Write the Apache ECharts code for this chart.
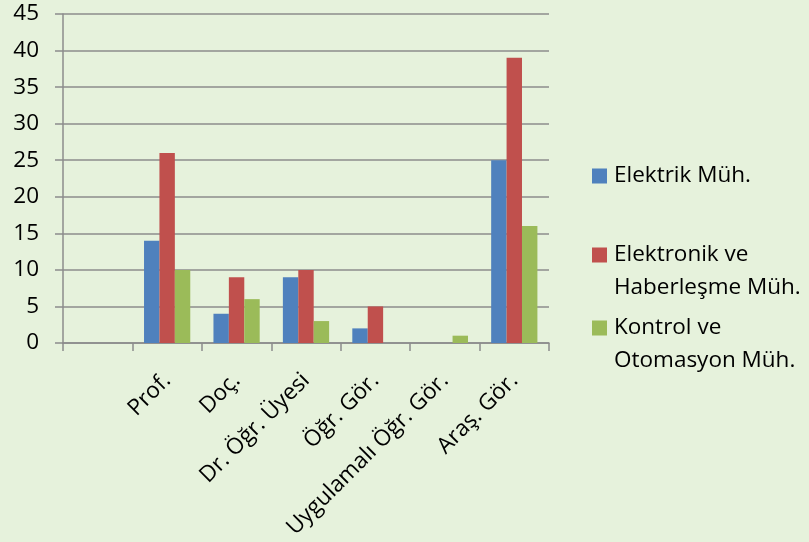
<!DOCTYPE html>
<html>
<head>
<meta charset="utf-8">
<script src="https://cdn.jsdelivr.net/npm/echarts@6/dist/echarts.min.js"></script>
<style>
html,body{margin:0;padding:0;background:#E6F2DC;}
#c{width:809px;height:542px;}
</style>
</head>
<body>
<div id="c"></div>
<script>
const categories = ["", "Prof.", "Doç.", "Dr. Öğr. Üyesi", "Öğr. Gör.", "Uygulamalı Öğr. Gör.", "Araş. Gör."];
const seriesNames = ["Elektrik Müh.", "Elektronik ve Haberleşme Müh.", "Kontrol ve Otomasyon Müh."];
const legendLabels = ["Elektrik Müh.", "\nElektronik ve\nHaberleşme Müh.", "\nKontrol ve\nOtomasyon Müh."];
const elektrik = [null, 14, 4, 9, 2, 0, 25];
const elektronik = [null, 26, 9, 10, 5, 0, 39];
const kontrol = [null, 10, 6, 3, 0, 1, 16];
const yTicks = {min: 0, max: 45, interval: 5};

const colors = ["#4F81BD", "#C0504D", "#9BBB59"];
const FONT = "Open Sans";
const FS = 22.5;
const axisGray = "#8C8C8C";

const chart = echarts.init(document.getElementById('c'));
const values = [elektrik, elektronik, kontrol];
const legendTops = [159.5, 205.5, 278.5];

chart.setOption({
  backgroundColor: "#E6F2DC",
  animation: false,
  color: colors,
  textStyle: {fontFamily: FONT},
  grid: {left: 63, right: 260, top: 14, bottom: 199, containLabel: false},
  legend: seriesNames.map((n, i) => ({
    data: [n],
    orient: 'vertical',
    left: 592,
    top: legendTops[i],
    padding: 0,
    itemWidth: 15,
    itemHeight: 15,
    itemGap: 0,
    selectedMode: false,
    icon: 'rect',
    formatter: () => legendLabels[i],
    textStyle: {fontFamily: FONT, fontSize: FS, color: '#000', lineHeight: 33, padding: [0,0,0,2]}
  })),
  xAxis: {
    type: 'category',
    data: categories,
    boundaryGap: true,
    axisLine: {show: true, lineStyle: {color: axisGray, width: 1.5}},
    axisTick: {show: true, length: 8, lineStyle: {color: axisGray, width: 1.5}},
    axisLabel: {interval: 0, rotate: 45, margin: 34, fontFamily: FONT, fontSize: FS, color: '#000'}
  },
  yAxis: {
    type: 'value',
    min: yTicks.min, max: yTicks.max, interval: yTicks.interval,
    axisLine: {show: true, lineStyle: {color: axisGray, width: 1.5}},
    axisTick: {show: true, length: 8, lineStyle: {color: axisGray, width: 1.5}},
    splitLine: {show: true, lineStyle: {color: axisGray, width: 1.5}},
    axisLabel: {margin: 24, fontFamily: FONT, fontSize: FS, color: '#000'}
  },
  series: seriesNames.map((n, i) => ({
    name: n,
    type: 'bar',
    data: values[i],
    barWidth: '22.2%',
    barGap: '0%',
    itemStyle: {color: colors[i]}
  }))
});
</script>
</body>
</html>
